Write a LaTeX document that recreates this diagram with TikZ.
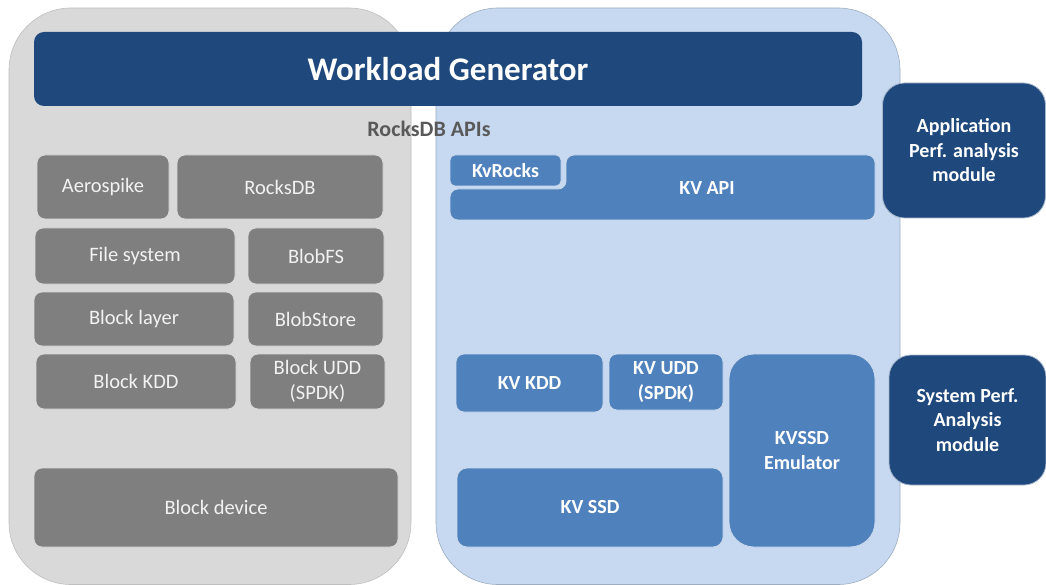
\documentclass[tikz,border=0pt]{standalone}
\usepackage{fontspec}
\setmainfont{Carlito}
\usepackage{tikz}

\definecolor{leftbg}{HTML}{D9D9D9}
\definecolor{rightbg}{HTML}{C6D9F0}
\definecolor{boxgray}{HTML}{7F7F7F}
\definecolor{midblue}{HTML}{4F81BD}
\definecolor{darkblue}{HTML}{1F497D}
\definecolor{apigray}{HTML}{595959}

\tikzset{
    graybox/.style={shape=rectangle, fill=boxgray, draw=white!70!boxgray, line width=0.8pt, rounded corners=8pt, inner sep=0pt, align=center, text=white!95!black, font=\fontsize{20.5}{24.5}\selectfont},
    bluebox/.style={shape=rectangle, fill=midblue, draw=white!70!midblue, line width=0.8pt, rounded corners=8pt, inner sep=0pt, align=center, text=white, font=\bfseries\fontsize{20}{24.5}\selectfont},
    modbox/.style={shape=rectangle, fill=darkblue, draw=white!60!darkblue, line width=0.8pt, rounded corners=22pt, inner sep=0pt, align=center, text=white, font=\bfseries\fontsize{20}{24.5}\selectfont}
}

\begin{document}
\begin{tikzpicture}[x=1pt, y=-1pt]
    \useasboundingbox (0,0) rectangle (1046,585);
    % the two stacks
    \fill[leftbg, draw=black!25, line width=0.6pt, rounded corners=62pt] (9,8) rectangle (411,584.5);
    \fill[rightbg, draw=black!20!rightbg, line width=0.6pt, rounded corners=62pt] (436,8) rectangle (900,584.5);
    \node[shape=rectangle, fill=darkblue, rounded corners=10pt, minimum width=828pt, minimum height=74pt, text=white, font=\bfseries\fontsize{33}{38}\selectfont] at (448,69) (WG) {Workload Generator};
    \node[text=apigray, font=\bfseries\fontsize{22}{26}\selectfont] at (429,129) (API) {RocksDB APIs};

    % block side
    \node[graybox, minimum width=132pt, minimum height=64pt] at (103,187) (AS) {Aerospike};
    \node[graybox, minimum width=206pt, minimum height=64pt] at (280,187) (RDB) {RocksDB};
    \node[graybox, minimum width=200pt, minimum height=56pt] at (135,256) (FS) {File system};
    \node[graybox, minimum width=136pt, minimum height=56pt] at (316,256) (BFS) {BlobFS};
    \node[graybox, minimum width=200pt, minimum height=54pt] at (134,319) (BL) {Block layer};
    \node[graybox, minimum width=135pt, minimum height=54pt] at (315.5,319) (BS) {BlobStore};
    \node[graybox, minimum width=200pt, minimum height=55pt] at (136,381.5) (BKDD) {Block KDD};
    \node[graybox, minimum width=135pt, minimum height=55pt] at (317.5,381.5) (BUDD) {Block UDD\\(SPDK)};
    \node[graybox, minimum width=364pt, minimum height=79pt] at (216,507.5) (BD) {Block device};

    % kv side
    \node[bluebox, rounded corners=5pt, minimum width=111pt, minimum height=31pt] at (505.5,170.5) (KR) {KvRocks};
    \filldraw[fill=midblue, draw=white!70!midblue, line width=0.8pt, rounded corners=8pt]
        (566,155) -- (875,155) -- (875,220) -- (450,220) -- (450,189) -- (566,189) -- cycle;
    \node[text=white, font=\bfseries\fontsize{20}{24.5}\selectfont] at (707,188) (KA) {KV API};
    \node[bluebox, minimum width=147pt, minimum height=58pt] at (529.5,383) (KKDD) {KV KDD};
    \node[bluebox, minimum width=114pt, minimum height=56pt] at (666,382) (KUDD) {KV UDD\\(SPDK)};
    \node[bluebox, rounded corners=25pt, minimum width=146pt, minimum height=193pt] at (802,450.5) (EMU) {KVSSD\\Emulator};
    \node[bluebox, rounded corners=10pt, minimum width=266pt, minimum height=79pt] at (590,507.5) (SSD) {KV SSD};

    % analysis modules
    \node[modbox, minimum width=163pt, minimum height=135pt] at (964,150.5) (APM) {Application\\Perf. analysis\\module};
    \node[modbox, minimum width=157pt, minimum height=130pt] at (967.5,420) (SPM) {System Perf.\\Analysis\\module};
\end{tikzpicture}
\end{document}
